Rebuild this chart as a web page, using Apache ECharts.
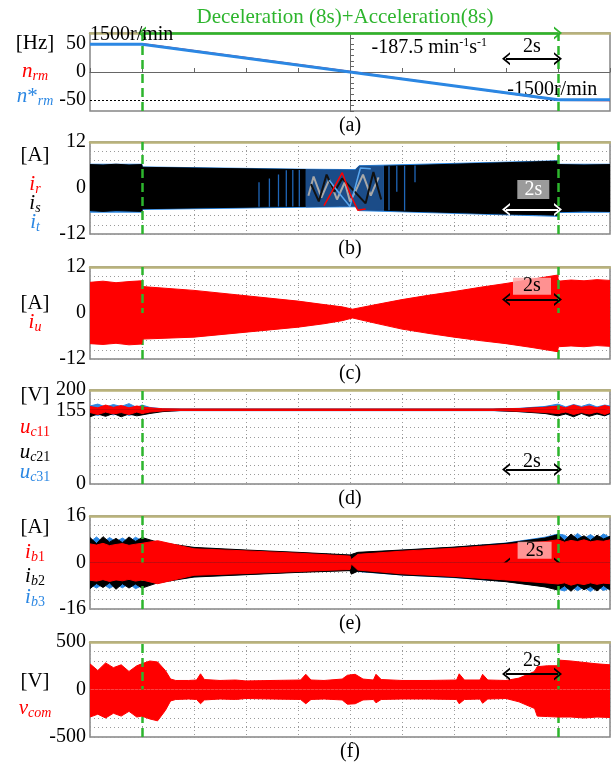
<!DOCTYPE html>
<html><head><meta charset="utf-8">
<script src="https://cdn.jsdelivr.net/npm/echarts@6.0.0/dist/echarts.min.js"></script>
<style>html,body{margin:0;padding:0;background:#fff;}#chart{width:611px;height:768px;}</style>
</head><body><div id="chart"></div>
<script>
// ================= DATA =================
const TIME_MIN = 0, TIME_MAX = 20, TIME_STEP = 2;      // 2 s per division
const EVENT_TIMES = [2, 18];                           // decel start / accel end

// (a) rotor speed [Hz]
const tSpeed = [0, 2, 10, 18, 20];
const nRmRef = [50, 50, 0, -50, -50];
const nRm    = [50.6, 50.6, 0.9, -50.6, -51.2];
const labelsA = [50, 0, -50];

// (b) motor currents i_r, i_s, i_t [A] (envelopes)
const tIsL  = [0, 0.5, 1, 1.5, 1.99, 2.01, 3, 4, 5, 6, 7, 8.3];
const isUpL = [6.1, 6.0, 6.2, 6.0, 6.1, 5.4, 5.3, 5.2, 5.1, 5.0, 4.9, 4.8];
const isLoL = [-5.9, -6.1, -5.9, -6.0, -6.1, -5.4, -5.3, -5.2, -5.1, -5.0, -4.9, -4.8];
const tIsR  = [11.3, 12, 13, 14, 15, 16, 17, 17.99, 18.01, 19, 20];
const isUpR = [5.7, 5.8, 6.0, 6.2, 6.4, 6.6, 6.8, 7.0, 6.1, 6.0, 6.1];
const isLoR = [-5.8, -6.0, -6.2, -6.4, -6.6, -6.8, -6.9, -7.1, -6.2, -6.0, -6.1];
const tIt   = [0, 2, 2.01, 8.3, 10.2, 10.35, 18, 18.01, 20];
const itUp  = [6.2, 6.2, 5.5, 4.9, 4.8, 5.8, 7.1, 6.2, 6.2];
const itLo  = [-6.3, -6.3, -5.6, -5.0, -4.9, -5.9, -7.4, -6.4, -6.3];
const tItM  = [8.3, 9, 9.6, 10.2, 10.35, 11, 11.3];
const itUpM = [4.8, 4.7, 4.7, 4.6, 5.7, 5.7, 5.7];
const itLoM = [-4.9, -4.8, -4.7, -4.7, -5.7, -5.8, -5.8];
const tItSpike = [6.5, 6.5, 6.6, 6.9, 6.9, 7.0, 7.25, 7.25, 7.3, 7.55, 7.55, 7.6, 7.8, 7.8, 7.9, 8.05, 8.05, 8.1,
                  11.5, 11.5, 11.6, 11.8, 11.8, 11.9, 12.1, 12.1, 12.2, 12.5, 12.5];
const itSpike  = [-4.9, 1.5, '-', -4.9, 2.5, '-', -4.8, 3.5, '-', -4.8, 4.6, '-', -4.8, 4.7, '-', -4.8, 4.7, '-',
                  5.7, -5.8, '-', 5.8, -1.0, '-', 5.8, -5.9, '-', 5.9, 1.5];
const tIsSlow = [8.4, 8.6, 8.9, 9.2, 9.5, 9.8, 10.0, 10.2, 10.5, 10.8, 11.1];
const isSlow  = [-2.0, 3.0, -2.5, 2.2, -3.0, 1.5, -3.5, -1.0, 3.5, -2.0, 2.8];
const tIsSlow2 = [8.5, 8.8, 9.1, 9.4, 9.7, 10.6, 10.9, 11.2];
const isSlow2  = [1.0, -3.5, 3.5, -1.0, 2.5, -4.0, 4.2, -3.0];
const tIrSlow = [9.0, 9.3, 9.7, 10.0, 10.3, 10.6];
const irSlow  = [-4.6, -1.0, 4.0, -1.5, -5.8, -5.5];
const tItSlow = [9.2, 9.6, 10.0, 10.4, 10.8];
const itSlow  = [2.0, -1.5, -4.8, 5.2, 5.0];
const labelsB = [12, 0, -12];

// (c) i_u [A]
const tIu  = [0, 0.5, 1, 1.5, 1.99, 2.01, 4, 6, 8, 9, 9.7, 10.1, 11, 12, 13, 14, 15, 16, 17, 17.99, 18.01, 18.5, 19, 19.5, 20];
const iuUp = [8.0, 8.3, 7.9, 8.2, 8.4, 6.9, 5.9, 4.5, 3.1, 2.2, 1.6, 1.0, 2.2, 3.5, 4.6, 5.6, 6.7, 7.7, 8.8, 9.9, 8.3, 8.6, 8.4, 8.7, 8.5];
const iuLo = [-8.0, -8.2, -7.9, -8.3, -8.1, -6.8, -6.3, -5.0, -3.7, -2.8, -2.0, -1.3, -2.7, -4.2, -5.3, -6.3, -7.2, -8.0, -9.0, -10.1, -8.8, -8.6, -8.8, -8.5, -8.7];
const labelsC = [12, 0, -12];

// (d) capacitor voltages u_c11, u_c21, u_c31 [V]
const tUc    = [0, 0.3, 0.6, 0.9, 1.2, 1.5, 1.8, 2.0, 2.3, 2.8, 3.5, 8, 15.5, 16.5, 17.5, 18, 18.3, 18.6, 18.9, 19.2, 19.5, 19.8, 20];
const uc31Up = [166, 170, 164, 169, 165, 171, 163, 168, 163, 160, 159.5, 159.5, 159.5, 161, 165, 170, 164, 169, 165, 170, 164, 168, 166];
const uc31Lo = [150, 146, 151, 147, 152, 146, 150, 148, 152, 155, 156, 156, 156, 154, 151, 148, 150, 146, 151, 147, 150, 146, 149];
const uc21Up = [163, 160, 166, 161, 164, 159, 165, 162, 161, 159, 159, 159, 159, 160, 163, 165, 160, 165, 161, 164, 160, 165, 161];
const uc21Lo = [143, 149, 144, 150, 143, 149, 145, 147, 150, 154, 156.5, 156.5, 156.5, 154, 150, 145, 149, 143, 150, 144, 149, 145, 150];
const uc11Up = [165, 162, 168, 163, 167, 162, 166, 164, 162, 160, 159.5, 159.5, 159.5, 160.5, 163, 166, 162, 168, 163, 166, 162, 167, 164];
const uc11Lo = [152, 148, 153, 149, 152, 148, 153, 150, 153, 155.5, 156.5, 156.5, 156.5, 155, 152, 150, 153, 148, 152, 149, 153, 148, 152];
const UC_CENTER = 158;
const labelsD = [200, 155, 0];

// (e) branch currents i_b1, i_b2, i_b3 [A]
const tIb   = [0, 0.25, 0.5, 0.75, 1, 1.25, 1.5, 1.75, 2, 2.6, 4, 6, 8, 10, 10.05, 10.3, 12, 14, 16, 17.5, 18, 18.25, 18.5, 18.75, 19, 19.25, 19.5, 19.75, 20];
const ib2Up = [8.6, 6.5, 8.9, 7.0, 8.3, 6.8, 8.8, 7.2, 8.6, 7.0, 5.2, 4.3, 3.5, 2.6, 2.4, 3.5, 4.3, 5.3, 6.6, 8.4, 9.6, 7.5, 9.8, 8.0, 9.2, 7.6, 9.4, 8.1, 9.0];
const ib2Lo = [-9.0, -7.2, -8.6, -7.0, -9.2, -7.3, -8.8, -7.4, -8.8, -7.0, -5.0, -4.2, -3.4, -2.8, -4.0, -3.0, -4.3, -5.1, -6.6, -8.4, -9.5, -8.0, -9.9, -7.8, -9.4, -8.2, -9.8, -7.9, -9.5];
const ib3Up = [7.0, 8.8, 6.9, 8.6, 7.2, 8.4, 7.0, 8.7, 7.5, 6.8, 5.0, 4.1, 3.3, 2.5, 2.3, 3.3, 4.2, 5.2, 6.7, 8.7, 9.8, 9.4, 8.0, 10.0, 8.3, 9.6, 8.1, 9.8, 8.6];
const ib3Lo = [-7.5, -8.8, -7.4, -8.9, -7.6, -8.7, -7.2, -9.0, -8.0, -6.8, -4.9, -4.1, -3.2, -2.6, -2.5, -3.1, -4.3, -5.2, -6.5, -8.2, -9.2, -9.8, -8.3, -9.7, -8.5, -10.0, -8.2, -9.6, -8.8];
const ib1Up = [6.4, 6.0, 6.6, 5.8, 6.2, 6.5, 5.9, 6.3, 6.6, 7.5, 4.7, 4.0, 3.2, 2.2, 1.0, 2.8, 3.9, 4.9, 6.2, 7.2, 7.8, 7.0, 7.6, 7.2, 7.8, 7.1, 7.5, 7.3, 7.8];
const ib1Lo = [-6.1, -6.4, -5.9, -6.5, -6.0, -6.3, -5.8, -6.4, -6.0, -7.3, -4.4, -3.8, -3.1, -2.4, -0.5, -2.6, -3.9, -4.8, -6.0, -7.0, -7.4, -7.0, -7.8, -7.2, -7.6, -7.0, -7.5, -7.1, -7.3];
const labelsE = [16, 0, -16];

// (f) common-mode voltage v_com [V]
const tVc   = [0, 0.3, 0.6, 0.9, 1.2, 1.5, 1.8, 1.99, 2.01, 2.3, 2.6, 2.9, 3.1, 3.3, 3.8, 4.1, 4.25, 4.4, 5, 5.6, 6, 7, 8.1, 8.3, 8.5, 9, 9.7, 9.9, 10.2, 10.5, 10.9, 11.0, 11.2, 12, 13, 14.1, 14.2, 14.4, 15.0, 15.1, 15.3, 16, 16.5, 17.1, 17.2, 17.6, 17.99, 18.01, 18.5, 19, 19.5, 20];
const vcUp  = [270, 200, 280, 230, 260, 190, 250, 270, 290, 300, 290, 200, 110, 95, 95, 100, 165, 105, 95, 100, 90, 95, 100, 160, 100, 95, 110, 150, 160, 110, 100, 160, 105, 95, 95, 100, 165, 100, 100, 160, 100, 95, 120, 190, 240, 250, 250, 310, 300, 285, 270, 260];
const vcLo  = [-290, -260, -300, -250, -280, -230, -290, -280, -290, -310, -330, -220, -120, -105, -100, -105, -150, -110, -100, -105, -95, -100, -105, -150, -105, -100, -110, -155, -150, -110, -105, -140, -105, -100, -100, -105, -150, -105, -100, -145, -100, -95, -130, -200, -280, -285, -290, -300, -290, -300, -290, -295];
const labelsF = [500, 0, -500];

// ================= STYLE / LAYOUT =================
const FONT = 'Liberation Serif';
const RED = '#ff0000', BLACK = '#000000', BLUE = '#2b87e3', DBLUE = '#1b4c88', GRAY = '#a8a8a8';
const GREEN = '#2db52d', OLIVE = '#b9b27a', BORDER = '#858585', DOT = '#9a9a9a';
const LEFT = 90, WIDTH = 520;
const GEO = [[33, 78], [142, 92], [267, 92], [390, 94], [516, 93], [642, 95]];
const Y = [
  {min: -70, max: 70, interval: 10, labels: labelsA, dots: false},
  {min: -12, max: 12, interval: 2.4, labels: labelsB, dots: true},
  {min: -12, max: 12, interval: 2.4, labels: labelsC, dots: true},
  {min: 0, max: 200, interval: 20, labels: labelsD, dots: true},
  {min: -16, max: 16, interval: 3.2, labels: labelsE, dots: true},
  {min: -500, max: 500, interval: 100, labels: labelsF, dots: true}
];
const CHEVRON = 'path://M0,10 L5,0 L10,10 L8.3,10 L5,3.6 L1.7,10 Z';

const pts = (t, v) => t.map((x, i) => [x, v[i]]);
const series = [];
function line(g, t, v, color, width, z, extra) {
  const s = Object.assign({type: 'line', xAxisIndex: g, yAxisIndex: g, data: pts(t, v), symbol: 'none',
    silent: true, animation: false, z: z, clip: false, connectNulls: false,
    lineStyle: {color: color, width: width}}, extra || {});
  series.push(s); return s;
}
function band(g, t, up, lo, color, origin, z) {
  line(g, t, up, color, 1, z, {areaStyle: {color: color, opacity: 1, origin: origin}});
  return line(g, t, lo, color, 1, z, {areaStyle: {color: color, opacity: 1, origin: origin}});
}
const dashLines = EVENT_TIMES.map(x => ({xAxis: x, symbol: 'none',
  lineStyle: {color: GREEN, type: [9, 5], width: 2.5}}));
function arrow(y, color, t0, t1, w) {
  const ls = {color: color, type: 'solid', width: w || 2};
  return [{coord: [t0 === undefined ? 16 : t0, y], symbol: CHEVRON, symbolSize: [13, 8], lineStyle: ls},
          {coord: [t1 === undefined ? 18 : t1, y], symbol: CHEVRON, symbolSize: [13, 8], lineStyle: ls}];
}
function tag(t, y, text, color, box, size, align) {
  return {coord: [t, y], symbol: 'rect', symbolSize: size || [1, 1],
    itemStyle: {color: box || 'rgba(0,0,0,0)'},
    label: {show: true, position: 'inside', formatter: text, color: color, fontFamily: FONT, fontSize: 20,
      align: align || 'center', rich: {
        b: {fontFamily: FONT, fontSize: 20, color: color, lineHeight: 22},
        p: {fontFamily: FONT, fontSize: 12, color: color, verticalAlign: 'top', lineHeight: 12}}}};
}
function markers(s, extraLines, points) {
  s.z = 10;
  s.markLine = {silent: true, symbol: 'none', label: {show: false}, animation: false,
    data: dashLines.concat(extraLines || [])};
  if (points) s.markPoint = {silent: true, animation: false, data: points};
}

// (a)
line(0, tSpeed, nRm, RED, 1.5, 3);
const sA = line(0, tSpeed, nRmRef, BLUE, 3, 4);
markers(sA, [
  {yAxis: -50, symbol: 'none', lineStyle: {color: '#000', type: [2, 2], width: 1}},
  arrow(70, GREEN, 2, 18, 2.5),
  arrow(24, BLACK)
], [
  tag(0, 66, '1500r/min', BLACK, null, null, 'left'),
  tag(13.05, 44, '{b|-187.5 min}{p|-1}{b|s}{p|-1}', BLACK),
  tag(16.05, -32, '-1500r/min', BLACK, null, null, 'left'),
  tag(17, 46, '2s', BLACK)
]);

// (b)
band(1, tIt, itUp, itLo, BLUE, 0, 2);
band(1, tIsL, isUpL, isLoL, BLACK, 0, 3);
band(1, tIsR, isUpR, isLoR, BLACK, 0, 3);
band(1, tItM, itUpM, itLoM, DBLUE, 0, 3);
line(1, tItSpike, itSpike, '#1f66b8', 1.3, 4);
line(1, tIsSlow, isSlow, GRAY, 2, 4);
line(1, tIsSlow2, isSlow2, '#111111', 2, 4);
line(1, tItSlow, itSlow, '#5aa8f0', 1.5, 4);
const sB = line(1, tIrSlow, irSlow, RED, 1.5, 5);
markers(sB, [arrow(-5.6, '#ffffff')], [tag(17.05, -0.4, '2s', '#ffffff', '#9b9b9b', [32, 19])]);

// (c)
const sC = band(2, tIu, iuUp, iuLo, RED, 0, 3);
markers(sC, [arrow(3.5, BLACK)], [tag(17.0, 7.0, '2s', BLACK, 'rgba(255,170,170,0.85)', [38, 17])]);

// (d)
band(3, tUc, uc31Up, uc31Lo, BLUE, UC_CENTER, 2);
band(3, tUc, uc21Up, uc21Lo, BLACK, UC_CENTER, 3);
const sD = band(3, tUc, uc11Up, uc11Lo, RED, UC_CENTER, 4);
markers(sD, [arrow(31, BLACK)], [tag(17.0, 48, '2s', BLACK)]);

// (e)
band(4, tIb, ib3Up, ib3Lo, BLUE, 0, 2);
band(4, tIb, ib2Up, ib2Lo, BLACK, 0, 3);
const sE = band(4, tIb, ib1Up, ib1Lo, RED, 0, 4);
markers(sE, [arrow(-0.5, BLACK)], [tag(17.1, 4.2, '2s', BLACK, 'rgba(255,175,175,0.85)', [34, 17])]);

// (f)
const sF = band(5, tVc, vcUp, vcLo, RED, 0, 3);
markers(sF, [arrow(163, BLACK)], [tag(17.0, 305, '2s', BLACK)]);

// ================= AXES =================
const grids = GEO.map(g => ({left: LEFT, width: WIDTH, top: g[0], height: g[1], show: true,
  borderColor: BORDER, borderWidth: 1.5, backgroundColor: 'transparent'}));
grids.push({left: LEFT, width: WIDTH, top: GEO[0][0], height: GEO[0][1]}); // crosshair overlay for (a)

const xAxes = [], yAxes = [];
GEO.forEach((g, i) => {
  xAxes.push({type: 'value', gridIndex: i, min: TIME_MIN, max: TIME_MAX, interval: TIME_STEP,
    axisLabel: {show: false},
    axisLine: i === 0 ? {show: true, onZero: true, lineStyle: {color: '#666', width: 1}} : {show: false},
    axisTick: i === 0 ? {show: true, length: 4, inside: true, lineStyle: {color: '#666'}} : {show: false},
    splitLine: {show: Y[i].dots, lineStyle: {color: DOT, type: [1, 3], width: 1}}});
});
GEO.forEach((g, i) => {
  xAxes.push({type: 'value', gridIndex: i, position: 'top', min: TIME_MIN, max: TIME_MAX,
    axisLabel: {show: false}, axisTick: {show: false}, splitLine: {show: false},
    axisLine: {show: true, onZero: false, lineStyle: {color: OLIVE, width: 2.5}}});
});
xAxes.push({type: 'value', gridIndex: 6, min: -1, max: 1, show: false});
GEO.forEach((g, i) => {
  const y = Y[i];
  yAxes.push({type: 'value', gridIndex: i, min: y.min, max: y.max, interval: y.interval,
    axisLine: {show: false}, axisTick: {show: false},
    axisLabel: {show: true, customValues: y.labels, color: '#000', fontFamily: FONT, fontSize: 20, margin: 4},
    splitLine: {show: y.dots, lineStyle: {color: DOT, type: [1, 3], width: 1}}});
});
yAxes.push({type: 'value', gridIndex: 6, min: -7, max: 7, interval: 1,
  axisLine: {show: true, onZero: true, lineStyle: {color: '#666', width: 1}},
  axisTick: {show: true, length: 4, inside: true, lineStyle: {color: '#666'}},
  axisLabel: {show: false}, splitLine: {show: false}});

// ================= TEXT (units, symbols, captions) =================
const rich = {
  u: {fontFamily: FONT, fontSize: 21, lineHeight: 24},
  v: {fontFamily: FONT, fontSize: 21, fontStyle: 'italic', lineHeight: 24},
  si: {fontFamily: FONT, fontSize: 14, fontStyle: 'italic', lineHeight: 14, verticalAlign: 'bottom'},
  sn: {fontFamily: FONT, fontSize: 14, lineHeight: 14, verticalAlign: 'bottom'}
};
const sideLabels = [
  ['{u|[Hz]}', BLACK, 43], ['{v|n}{si|rm}', RED, 71], ['{v|n}{u|*}{si|rm}', BLUE, 96],
  ['{u|[A]}', BLACK, 155], ['{v|i}{si|r}', RED, 184], ['{v|i}{si|s}', BLACK, 203], ['{v|i}{si|t}', BLUE, 222],
  ['{u|[A]}', BLACK, 303], ['{v|i}{si|u}', RED, 322],
  ['{u|[V]}', BLACK, 395], ['{v|u}{si|c}{sn|11}', RED, 427], ['{v|u}{si|c}{sn|21}', BLACK, 452], ['{v|u}{si|c}{sn|31}', BLUE, 472],
  ['{u|[A]}', BLACK, 527], ['{v|i}{si|b}{sn|1}', RED, 552], ['{v|i}{si|b}{sn|2}', BLACK, 576], ['{v|i}{si|b}{sn|3}', BLUE, 597],
  ['{u|[V]}', BLACK, 681], ['{v|v}{si|com}', RED, 708]
];
const graphic = sideLabels.map(l => ({type: 'text', x: 35, y: l[2], silent: true,
  style: {text: l[0], fill: l[1], rich: rich, align: 'center', verticalAlign: 'middle'}}));
['(a)', '(b)', '(c)', '(d)', '(e)', '(f)'].forEach((c, i) => {
  graphic.push({type: 'text', x: 350, y: GEO[i][0] + GEO[i][1] + 15, silent: true,
    style: {text: c, fill: '#000', font: '20px "' + FONT + '"', align: 'center', verticalAlign: 'middle'}});
});
graphic.push({type: 'text', x: 345, y: 17, silent: true,
  style: {text: 'Deceleration (8s)+Acceleration(8s)', fill: GREEN, font: '21px "' + FONT + '"',
    align: 'center', verticalAlign: 'middle'}});

const chart = echarts.init(document.getElementById('chart'), null, {renderer: 'canvas'});
chart.setOption({animation: false, backgroundColor: '#fff', grid: grids, xAxis: xAxes, yAxis: yAxes,
  series: series, graphic: graphic});
</script></body></html>
